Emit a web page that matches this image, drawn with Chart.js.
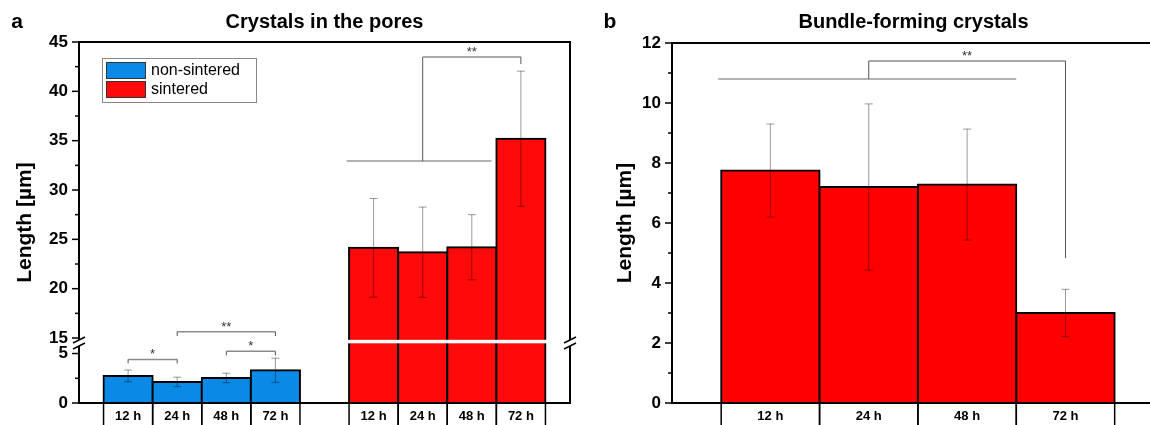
<!DOCTYPE html>
<html>
<head>
<meta charset="utf-8">
<script src="https://cdn.jsdelivr.net/npm/chart.js@4.4.0/dist/chart.umd.min.js"></script>
<style>
  body { margin: 0; background: #fff; }
  #wrap { position: relative; width: 1150px; height: 425px; overflow: hidden; }
  .panel { position: absolute; top: 0; }
</style>
</head>
<body>
<div id="wrap">
  <div class="panel" style="left:0"><canvas id="pores" width="595" height="425"></canvas></div>
  <div class="panel" style="left:595px"><canvas id="bundle" width="565" height="425"></canvas></div>
</div>
<script>
// crystal length, mean and standard deviation (µm)
const hours = ['12 h', '24 h', '48 h', '72 h'];
const poresNonSintered = [2.74, 2.13, 2.53, 3.31];
const poresNonSinteredSd = [0.6, 0.48, 0.48, 1.22];
const poresSintered = [24.14, 23.7, 24.2, 35.2];
const poresSinteredSd = [5.0, 4.57, 3.3, 6.85];
const bundleSintered = [7.75, 7.2, 7.28, 3.0];
const bundleSinteredSd = [1.55, 2.77, 1.85, 0.79];

const poresTicks = [0, 5, 15, 20, 25, 30, 35, 40, 45];
const poresMinor = [2.5, 17.5, 22.5, 27.5, 32.5, 37.5, 42.5];
const bundleTicks = [0, 2, 4, 6, 8, 10, 12];
const bundleMinor = [1, 3, 5, 7, 9, 11];

const BLUE = '#0a8ae6';
const RED = '#ff0a0a';
const FONT = '"Liberation Sans", Arial, sans-serif';

Chart.defaults.font.family = FONT;
Chart.defaults.color = '#000';

// y axis that jumps from 5 to 15
const lowTop = 5, highBottom = 15;
const lowShare = 0.137, gapShare = 0.043;

class BrokenScale extends Chart.LinearScale {
  getPixelForValue(value) {
    let dec;
    if (value <= lowTop) {
      dec = value / lowTop * lowShare;
    } else if (value < highBottom) {
      dec = lowShare + (value - lowTop) / (highBottom - lowTop) * gapShare;
    } else {
      dec = lowShare + gapShare + (value - highBottom) / (this.max - highBottom) * (1 - lowShare - gapShare);
    }
    return this.getPixelForDecimal(dec);
  }
}
BrokenScale.id = 'broken';
Chart.register(BrokenScale);

// significance brackets, in axis units
const poresBrackets = [
  { from: 1, to: 2, top: 4.41, leftEnd: 4.0, rightEnd: 4.0, mark: '*' },
  { from: 2, to: 4, top: 15.64, leftEnd: 15.2, rightEnd: 15.2, mark: '**' },
  { from: 3, to: 4, top: 6.4, leftEnd: 4.82, rightEnd: 4.82, mark: '*' },
  { from: 7, to: 9, top: 43.47, leftEnd: 32.93, rightEnd: 42.76, mark: '**' }
];
const poresGroupLines = [{ from: 5.45, to: 8.4, at: 32.93 }];
const bundleBrackets = [
  { from: 2, to: 4, top: 11.4, leftEnd: 10.8, rightEnd: 4.83, mark: '**' }
];
const bundleGroupLines = [{ from: 0.47, to: 3.5, at: 10.8 }];

function line(ctx, x1, y1, x2, y2, color, w) {
  ctx.beginPath();
  ctx.moveTo(x1, y1);
  ctx.lineTo(x2, y2);
  ctx.strokeStyle = color;
  ctx.lineWidth = w;
  ctx.stroke();
}

function drawErrorBars(chart) {
  const ctx = chart.ctx, ys = chart.scales.y;
  chart.data.datasets.forEach((ds, d) => {
    chart.getDatasetMeta(d).data.forEach((bar, i) => {
      const m = ds.data[i].y, sd = ds.errors[i];
      const top = ys.getPixelForValue(m + sd), bot = ys.getPixelForValue(m - sd);
      const c = 'rgba(0,0,0,0.4)';
      line(ctx, bar.x, top, bar.x, bot, c, 1);
      line(ctx, bar.x - 4, top, bar.x + 4, top, c, 1);
      line(ctx, bar.x - 4, bot, bar.x + 4, bot, c, 1);
    });
  });
}

function drawBrackets(chart, brackets, groups) {
  const ctx = chart.ctx, xs = chart.scales.x, ys = chart.scales.y;
  groups.forEach(g => {
    const y = ys.getPixelForValue(g.at);
    line(ctx, xs.getPixelForValue(g.from), y, xs.getPixelForValue(g.to), y, '#999', 1.5);
  });
  brackets.forEach(b => {
    const x1 = xs.getPixelForValue(b.from), x2 = xs.getPixelForValue(b.to);
    const y = ys.getPixelForValue(b.top);
    line(ctx, x1, y, x2, y, '#8c8c8c', 1.5);
    line(ctx, x1, y, x1, ys.getPixelForValue(b.leftEnd), '#555', 1);
    line(ctx, x2, y, x2, ys.getPixelForValue(b.rightEnd), '#555', 1);
    ctx.font = '13px ' + FONT;
    ctx.fillStyle = '#333';
    ctx.textAlign = 'center';
    ctx.textBaseline = 'alphabetic';
    ctx.fillText(b.mark, (x1 + x2) / 2, y - 1);
  });
}

function drawYTicks(chart, majors, minors) {
  const ctx = chart.ctx, ys = chart.scales.y, x = chart.chartArea.left;
  majors.forEach(v => { const p = ys.getPixelForValue(v); line(ctx, x - 7, p, x, p, '#000', 1.5); });
  minors.forEach(v => { const p = ys.getPixelForValue(v); line(ctx, x - 4, p, x, p, '#000', 1.5); });
}

// boxes round the time labels under the bars
function drawLabelBoxes(chart) {
  const ctx = chart.ctx, xs = chart.scales.x, b = chart.chartArea.bottom;
  chart.data.datasets.forEach(ds => {
    ds.data.forEach(pt => {
      [pt.x - 0.5, pt.x + 0.5].forEach(e => {
        const px = xs.getPixelForValue(e);
        line(ctx, px, b, px, chart.height, '#000', 1.5);
      });
    });
  });
}

function drawLetter(chart, letter, x) {
  const ctx = chart.ctx;
  ctx.font = 'bold 21px ' + FONT;
  ctx.fillStyle = '#000';
  ctx.textAlign = 'center';
  ctx.textBaseline = 'middle';
  ctx.fillText(letter, x, 22);
}

const poresPlugin = {
  id: 'poresDecor',
  afterDatasetsDraw(chart) {
    const ctx = chart.ctx, xs = chart.scales.x, ys = chart.scales.y;
    drawErrorBars(chart);
    // white cut through the tall bars at the axis break
    const p15 = ys.getPixelForValue(highBottom);
    ctx.fillStyle = '#fff';
    const xa = xs.getPixelForValue(5.5) - 2, xb = xs.getPixelForValue(9.5) + 2;
    ctx.fillRect(xa, p15 + 1.8, xb - xa, 3.5);
    drawBrackets(chart, poresBrackets, poresGroupLines);
  },
  afterDraw(chart) {
    const ctx = chart.ctx, a = chart.chartArea, ys = chart.scales.y;
    const brkA = ys.getPixelForValue(highBottom) + 2, brkB = brkA + 6;
    // frame with the broken sides
    line(ctx, a.left, a.top, a.right, a.top, '#000', 2);
    line(ctx, a.left, a.bottom, a.right, a.bottom, '#000', 2);
    [a.left, a.right].forEach(x => {
      line(ctx, x, a.top - 1, x, brkA, '#000', 2);
      line(ctx, x, brkB, x, a.bottom + 1, '#000', 2);
      line(ctx, x - 6, brkA + 3, x + 6, brkA - 3, '#000', 1.5);
      line(ctx, x - 6, brkB + 3, x + 6, brkB - 3, '#000', 1.5);
    });
    drawYTicks(chart, poresTicks, poresMinor);
    drawLabelBoxes(chart);
    drawLetter(chart, 'a', 17);
    // legend
    ctx.strokeStyle = '#888';
    ctx.lineWidth = 1;
    ctx.strokeRect(102.5, 58.5, 154, 44);
    chart.data.datasets.forEach((ds, i) => {
      const y = 62 + i * 19;
      ctx.fillStyle = ds.backgroundColor;
      ctx.fillRect(106, y, 40, 17);
      ctx.strokeStyle = '#333';
      ctx.strokeRect(106.5, y + 0.5, 39, 16);
      ctx.fillStyle = '#000';
      ctx.font = '16px ' + FONT;
      ctx.textAlign = 'left';
      ctx.textBaseline = 'middle';
      ctx.fillText(ds.label, 151, y + 9);
    });
  }
};

const bundlePlugin = {
  id: 'bundleDecor',
  afterDatasetsDraw(chart) {
    drawErrorBars(chart);
    drawBrackets(chart, bundleBrackets, bundleGroupLines);
  },
  afterDraw(chart) {
    const a = chart.chartArea, ctx = chart.ctx;
    line(ctx, a.left, a.top, a.right, a.top, '#000', 2);
    line(ctx, a.left, a.bottom, a.right, a.bottom, '#000', 2);
    line(ctx, a.left, a.top - 1, a.left, a.bottom + 1, '#000', 2);
    line(ctx, a.right, a.top - 1, a.right, a.bottom + 1, '#000', 2);
    drawYTicks(chart, bundleTicks, bundleMinor);
    drawLabelBoxes(chart);
    drawLetter(chart, 'b', 15);
  }
};

function barSet(label, xs, values, errors, color) {
  return {
    label: label,
    data: values.map((v, i) => ({ x: xs[i], y: v })),
    errors: errors,
    backgroundColor: color,
    borderColor: '#000',
    borderWidth: 2,
    inflateAmount: 1,
    grouped: false,
    barPercentage: 1,
    categoryPercentage: 1
  };
}

function yAxis(type, max, ticks, width, titlePad) {
  return {
    type: type, min: 0, max: max,
    afterBuildTicks: s => { s.ticks = ticks.map(v => ({ value: v })); },
    afterFit: s => { s.width = width; },
    grid: { display: false }, border: { display: false },
    ticks: { padding: 3, autoSkip: false, font: { size: 17, weight: 'bold' }, color: '#000' },
    title: { display: true, text: 'Length [µm]', color: '#000',
      font: { size: 21, weight: 'bold' }, padding: { top: titlePad, bottom: 0 } }
  };
}

function xAxis(max, slots) {
  return {
    type: 'linear', min: 0, max: max, offset: false,
    afterBuildTicks: s => { s.ticks = slots.map(v => ({ value: v })); },
    afterFit: s => { s.height = 22; },
    grid: { display: false, offset: false }, border: { display: false },
    ticks: { callback: (v, i) => hours[i % hours.length], padding: -2, autoSkip: false,
      maxRotation: 0, font: { size: 13, weight: 'bold' }, color: '#000' }
  };
}

function titleOpts(text, bottom) {
  return { display: true, text: text, color: '#000', fullSize: false,
    font: { size: 20, weight: 'bold' }, padding: { top: 10, bottom: bottom } };
}

const blueSlots = hours.map((h, i) => i + 1);
const redSlots = hours.map((h, i) => i + 6);

new Chart(document.getElementById('pores'), {
  type: 'bar',
  data: {
    datasets: [
      barSet('non-sintered', blueSlots, poresNonSintered, poresNonSinteredSd, BLUE),
      barSet('sintered', redSlots, poresSintered, poresSinteredSd, RED)
    ]
  },
  options: {
    responsive: false, animation: false, events: [],
    layout: { padding: { left: 0, right: 25, top: 0, bottom: 0 } },
    scales: {
      x: xAxis(10, blueSlots.concat(redSlots)),
      y: yAxis('broken', 45, poresTicks, 79, 13)
    },
    plugins: {
      legend: { display: false }, tooltip: { enabled: false },
      title: titleOpts('Crystals in the pores', 8)
    }
  },
  plugins: [poresPlugin]
});

new Chart(document.getElementById('bundle'), {
  type: 'bar',
  data: {
    datasets: [barSet('sintered', blueSlots, bundleSintered, bundleSinteredSd, '#ff0000')]
  },
  options: {
    responsive: false, animation: false, events: [],
    layout: { padding: { left: 0, right: 5, top: 0, bottom: 0 } },
    scales: {
      x: xAxis(4.91, blueSlots),
      y: yAxis('linear', 12, bundleTicks, 77, 18)
    },
    plugins: {
      legend: { display: false }, tooltip: { enabled: false },
      title: titleOpts('Bundle-forming crystals', 9)
    }
  },
  plugins: [bundlePlugin]
});
</script>
</body>
</html>
